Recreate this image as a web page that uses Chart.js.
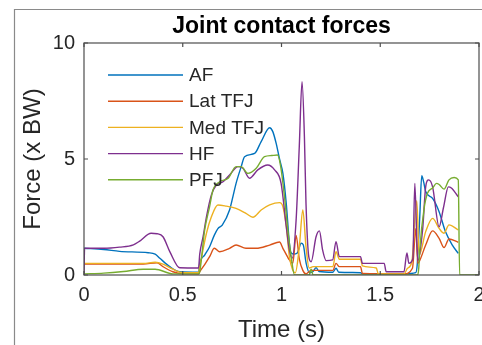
<!DOCTYPE html>
<html>
<head>
<meta charset="utf-8">
<script src="https://cdn.jsdelivr.net/npm/chart.js@4.4.0/dist/chart.umd.min.js"></script>
<style>
  html, body { margin: 0; padding: 0; background: #fff; }
  #wrap { width: 482px; height: 345px; }
</style>
</head>
<body>
<div id="wrap"><canvas id="chart" width="482" height="345"></canvas></div>
<script>
// series: time (s) and force (x BW)
const seriesNames = ['AF', 'Lat TFJ', 'Med TFJ', 'HF', 'PFJ']

const tAF = [0, 0.1, 0.18, 0.325, 0.36, 0.384, 0.434, 0.485, 0.58, 0.586, 0.611, 0.636, 0.66, 0.678, 0.7, 0.737, 0.754, 0.77, 0.796, 0.813, 0.864, 0.897, 0.94, 0.956, 0.973, 0.99, 1.007, 1.024, 1.04, 1.049, 1.06, 1.08, 1.1, 1.11, 1.125, 1.141, 1.16, 1.175, 1.19, 1.26, 1.276, 1.29, 1.4, 1.41, 1.62, 1.68, 1.687, 1.7, 1.71, 1.72, 1.73, 1.765, 1.798, 1.83, 1.865, 1.895]
const vAF = [1.15, 1.1, 1.02, 0.96, 0.9, 0.72, 0.36, 0.14, 0.12, 0.5, 0.86, 1.22, 1.72, 2.0, 2.15, 2.8, 3.38, 3.95, 4.67, 5.1, 5.24, 5.75, 6.35, 6.18, 5.67, 5.0, 4.38, 3.09, 1.37, 0.95, 0.9, 0.95, 1.37, 1.3, 0.5, 0.1, 0.15, 0.32, 0.15, 0.12, 0.29, 0.12, 0.1, 0.05, 0.05, 0.1, 0.43, 2.5, 4.28, 4.0, 3.6, 3.3, 2.73, 1.87, 1.29, 0.93]

const tLat = [0, 0.3, 0.37, 0.4, 0.45, 0.5, 0.58, 0.586, 0.611, 0.636, 0.66, 0.687, 0.737, 0.77, 0.82, 0.872, 0.94, 0.99, 1.007, 1.03, 1.04, 1.057, 1.074, 1.09, 1.108, 1.124, 1.15, 1.26, 1.276, 1.293, 1.4, 1.41, 1.62, 1.663, 1.68, 1.69, 1.697, 1.73, 1.765, 1.798, 1.823, 1.848, 1.895]
const vLat = [0.47, 0.47, 0.53, 0.36, 0.14, 0.05, 0.05, 0.14, 0.45, 0.79, 1.15, 1.0, 1.15, 1.29, 1.15, 1.15, 1.29, 1.42, 1.15, 0.79, 0.65, 0.5, 1.7, 0.7, 0.2, 0.05, 0.2, 0.2, 0.5, 0.36, 0.36, 0.07, 0.05, 0.29, 2.0, 0.5, 0.57, 1.29, 1.9, 1.58, 1.18, 1.55, 1.41]

const tMed = [0, 0.3, 0.36, 0.4, 0.45, 0.5, 0.58, 0.586, 0.62, 0.645, 0.678, 0.72, 0.77, 0.82, 0.855, 0.897, 0.94, 0.99, 1.007, 1.024, 1.04, 1.057, 1.07, 1.09, 1.108, 1.124, 1.14, 1.16, 1.26, 1.276, 1.293, 1.4, 1.41, 1.48, 1.49, 1.62, 1.638, 1.66, 1.685, 1.697, 1.73, 1.765, 1.798, 1.823, 1.848, 1.895]
const vMed = [0.5, 0.5, 0.55, 0.47, 0.25, 0.1, 0.1, 0.36, 1.8, 2.51, 3.02, 2.97, 2.87, 2.66, 2.49, 2.8, 3.02, 3.12, 2.95, 2.1, 0.79, 0.2, 0.1, 1.2, 2.8, 1.22, 0.3, 0.36, 0.36, 1.0, 0.68, 0.68, 0.39, 0.3, 0.05, 0.05, 0.29, 0.57, 3.2, 0.86, 1.87, 2.44, 2.01, 1.8, 2.16, 1.94]

const tHF = [0, 0.003, 0.1, 0.18, 0.25, 0.28, 0.34, 0.37, 0.4, 0.435, 0.485, 0.58, 0.586, 0.603, 0.62, 0.645, 0.67, 0.704, 0.737, 0.78, 0.805, 0.838, 0.88, 0.93, 0.965, 0.998, 1.024, 1.04, 1.054, 1.074, 1.09, 1.104, 1.116, 1.124, 1.138, 1.15, 1.175, 1.192, 1.208, 1.226, 1.259, 1.276, 1.293, 1.4, 1.41, 1.52, 1.53, 1.62, 1.635, 1.645, 1.665, 1.675, 1.69, 1.715, 1.73, 1.745, 1.765, 1.798, 1.82, 1.845, 1.86, 1.895]
const vHF = [0, 1.15, 1.15, 1.2, 1.3, 1.45, 1.8, 1.78, 1.65, 1.0, 0.31, 0.3, 0.9, 1.65, 2.51, 3.45, 3.88, 4.02, 4.31, 4.67, 4.6, 4.17, 4.53, 4.74, 4.53, 3.95, 2.1, 1.08, 0.72, 2.37, 5.53, 8.33, 5.96, 3.09, 0.79, 0.57, 1.65, 1.9, 1.08, 0.62, 0.65, 1.44, 0.79, 0.79, 0.5, 0.5, 0.14, 0.14, 0.95, 0.5, 0.7, 3.95, 0.6, 2.0, 3.8, 4.1, 3.8, 2.08, 2.9, 3.8, 3.75, 3.37]

const tPFJ = [0, 0.1, 0.2, 0.3, 0.36, 0.45, 0.58, 0.586, 0.611, 0.636, 0.653, 0.687, 0.73, 0.77, 0.796, 0.83, 0.872, 0.914, 0.95, 0.98, 0.996, 1.015, 1.032, 1.049, 1.066, 1.14, 1.15, 1.16, 1.69, 1.695, 1.7, 1.722, 1.739, 1.765, 1.785, 1.798, 1.823, 1.848, 1.874, 1.895, 1.902, 2.0]
const vPFJ = [0.05, 0.08, 0.15, 0.25, 0.25, 0.05, 0.05, 0.14, 1.94, 2.95, 3.66, 4.02, 4.17, 4.67, 4.67, 4.38, 4.6, 5.1, 5.15, 5.17, 4.67, 3.38, 1.94, 0.79, 0, 0, 0.25, 0, 0, 0.3, 1.08, 2.87, 3.52, 3.75, 3.95, 3.9, 3.7, 4.1, 4.2, 4.1, 0, 0]

const xTicks = [0, 0.5, 1, 1.5, 2]
const yTicks = [0, 5, 10]

const colors = ['#0072BD', '#D95319', '#EDB120', '#7E2F8E', '#77AC30']
const times = [tAF, tLat, tMed, tHF, tPFJ]
const values = [vAF, vLat, vMed, vHF, vPFJ]

const axisColor = '#4d4d4d'
const textColor = '#262626'
const fontFamily = '"Liberation Sans", Arial, Helvetica, sans-serif'

function toPoints(ts, vs) {
  return ts.map((t, i) => ({ x: t, y: vs[i] }))
}

const datasets = seriesNames.map((name, i) => ({
  label: name,
  data: toPoints(times[i], values[i]),
  borderColor: colors[i],
  backgroundColor: colors[i],
  borderWidth: 1.4,
  pointRadius: 0,
  cubicInterpolationMode: 'monotone',
  order: seriesNames.length - i
}))

// figure frame, axes box with inward ticks, title and legend
const matlabLook = {
  id: 'matlabLook',
  beforeDraw(chart) {
    const ctx = chart.ctx
    ctx.save()
    ctx.strokeStyle = '#8a8a8a'
    ctx.lineWidth = 1.2
    ctx.beginPath()
    ctx.moveTo(14.5, 345)
    ctx.lineTo(14.5, 9.5)
    ctx.lineTo(482, 9.5)
    ctx.stroke()
    ctx.restore()
  },
  afterDraw(chart) {
    const ctx = chart.ctx
    const a = chart.chartArea
    const xs = chart.scales.x
    const ys = chart.scales.y
    ctx.save()
    ctx.strokeStyle = axisColor
    ctx.lineWidth = 1.2
    ctx.strokeRect(a.left, a.top, a.right - a.left, a.bottom - a.top)
    const tl = 4
    ctx.beginPath()
    xTicks.forEach(v => {
      const px = xs.getPixelForValue(v)
      ctx.moveTo(px, a.bottom); ctx.lineTo(px, a.bottom - tl)
      ctx.moveTo(px, a.top); ctx.lineTo(px, a.top + tl)
    })
    yTicks.forEach(v => {
      const py = ys.getPixelForValue(v)
      ctx.moveTo(a.left, py); ctx.lineTo(a.left + tl, py)
      ctx.moveTo(a.right, py); ctx.lineTo(a.right - tl, py)
    })
    ctx.stroke()

    // title
    ctx.fillStyle = '#000'
    ctx.font = 'bold 23px ' + fontFamily
    ctx.textAlign = 'center'
    ctx.textBaseline = 'alphabetic'
    ctx.fillText('Joint contact forces', (a.left + a.right) / 2, 33)

    // legend inside the axes, no box
    ctx.font = '19px ' + fontFamily
    ctx.textAlign = 'left'
    ctx.textBaseline = 'middle'
    chart.data.datasets.forEach((ds, i) => {
      const y = a.top + 32 + i * 26.2
      ctx.strokeStyle = ds.borderColor
      ctx.lineWidth = 1.4
      ctx.beginPath()
      ctx.moveTo(a.left + 24, y)
      ctx.lineTo(a.left + 99, y)
      ctx.stroke()
      ctx.fillStyle = textColor
      ctx.fillText(ds.label, a.left + 105, y + 1)
    })
    ctx.restore()
  }
}

new Chart(document.getElementById('chart'), {
  type: 'line',
  data: { datasets },
  plugins: [matlabLook],
  options: {
    responsive: false,
    animation: false,
    events: [],
    layout: { padding: { top: 43, right: 3, left: 0, bottom: 0 } },
    plugins: {
      legend: { display: false },
      title: { display: false },
      tooltip: { enabled: false }
    },
    scales: {
      x: {
        type: 'linear',
        min: 0,
        max: 2,
        afterBuildTicks: (scale) => { scale.ticks = xTicks.map(v => ({ value: v })) },
        afterFit: (scale) => { scale.height = 70; scale.paddingLeft = 0; scale.paddingRight = 0 },
        grid: { display: false, drawTicks: false },
        border: { display: false },
        ticks: {
          padding: 8,
          maxRotation: 0,
          autoSkip: false,
          color: textColor,
          font: { family: fontFamily, size: 20 },
          callback: (v) => String(v)
        },
        title: {
          display: true,
          text: 'Time (s)',
          color: textColor,
          font: { family: fontFamily, size: 24 },
          padding: { top: 0, bottom: 0 }
        }
      },
      y: {
        type: 'linear',
        min: 0,
        max: 10,
        afterBuildTicks: (scale) => { scale.ticks = yTicks.map(v => ({ value: v })) },
        afterFit: (scale) => { scale.width = 84; scale.paddingTop = 0; scale.paddingBottom = 0 },
        grid: { display: false, drawTicks: false },
        border: { display: false },
        ticks: {
          padding: 9,
          autoSkip: false,
          color: textColor,
          font: { family: fontFamily, size: 20 },
          callback: (v) => String(v)
        },
        title: {
          display: true,
          text: 'Force (x BW)',
          color: textColor,
          font: { family: fontFamily, size: 24 },
          padding: { top: 19, bottom: 0 }
        }
      }
    }
  }
})
</script>
</body>
</html>
